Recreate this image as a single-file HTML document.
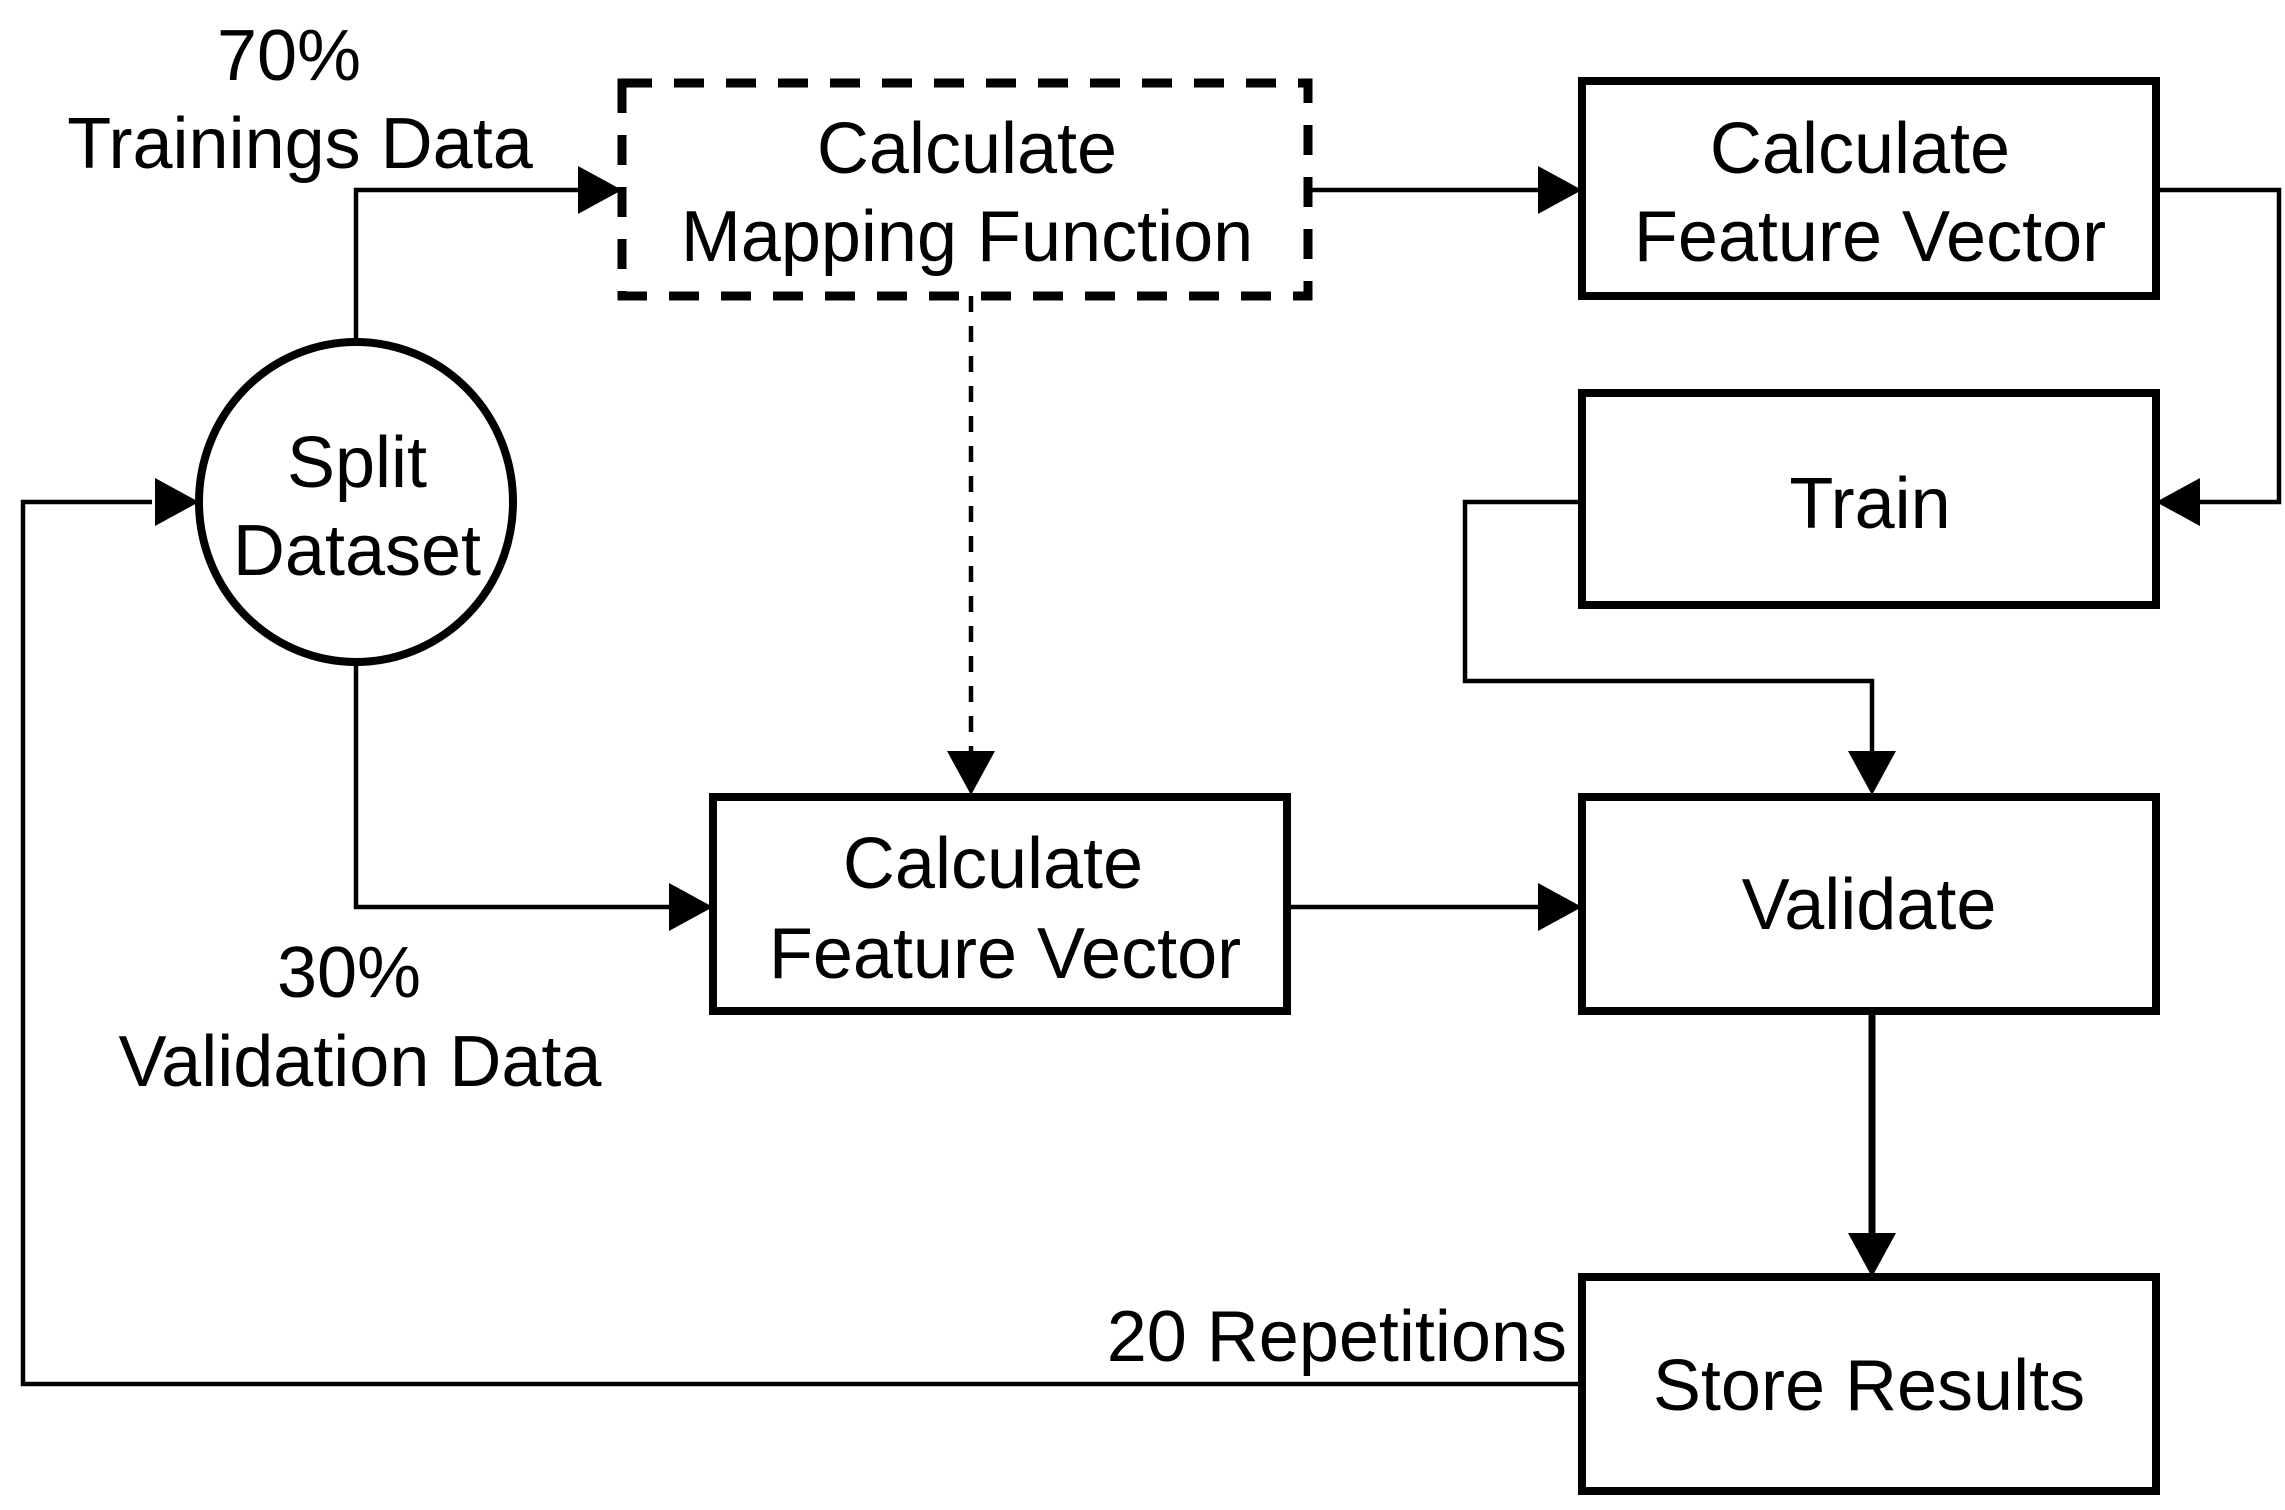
<!DOCTYPE html>
<html><head><meta charset="utf-8"><style>html,body{margin:0;padding:0;background:#fff}svg{display:block}</style></head>
<body>
<svg width="2285" height="1510" viewBox="0 0 2285 1510" xmlns="http://www.w3.org/2000/svg" font-family="Liberation Sans, Arial, sans-serif" font-size="72" fill="none" stroke="#000">
<!-- boxes -->
<rect x="622" y="83" width="686" height="213" stroke-width="9" stroke-dasharray="30,22"/>
<rect x="1582" y="81" width="574" height="215" stroke-width="8"/>
<rect x="1582" y="393" width="574" height="212" stroke-width="8"/>
<rect x="1582" y="797" width="574" height="214" stroke-width="8"/>
<rect x="1582" y="1277" width="574" height="214" stroke-width="8"/>
<rect x="713" y="797" width="574" height="214" stroke-width="8"/>
<ellipse cx="356" cy="502" rx="157" ry="160" stroke-width="8"/>
<!-- connectors -->
<g stroke-width="4.5">
<polyline points="356,342 356,190 580,190"/>
<line x1="971" y1="296" x2="971" y2="752" stroke-dasharray="16,14"/>
<polyline points="356,662 356,907 670,907"/>
<line x1="1287" y1="907" x2="1540" y2="907"/>
<line x1="1308" y1="190" x2="1540" y2="190"/>
<polyline points="2156,190 2279,190 2279,502 2200,502"/>
<polyline points="1582,502 1465,502 1465,681 1872,681 1872,752"/>
<polyline points="1582,1384 23,1384 23,502 152,502"/>
</g>
<line x1="1872" y1="1011" x2="1872" y2="1235" stroke-width="7"/>
<!-- arrowheads -->
<g fill="#000" stroke="none">
<polygon points="622,190 578,166 578,214"/>
<polygon points="971,795 947,751 995,751"/>
<polygon points="713,907 669,883 669,931"/>
<polygon points="1582,907 1538,883 1538,931"/>
<polygon points="1582,190 1538,166 1538,214"/>
<polygon points="2156,502 2200,478 2200,526"/>
<polygon points="1872,795 1848,751 1896,751"/>
<polygon points="1872,1277 1848,1233 1896,1233"/>
<polygon points="199,502 155,478 155,526"/>
</g>
<!-- text -->
<g fill="#000" stroke="none" text-anchor="middle" dominant-baseline="central">
<text x="967" y="149">Calculate</text>
<text x="967" y="237">Mapping Function</text>
<text x="1860" y="149">Calculate</text>
<text x="1870" y="237">Feature Vector</text>
<text x="1870" y="504">Train</text>
<text x="993" y="864">Calculate</text>
<text x="1005" y="954">Feature Vector</text>
<text x="1869" y="905">Validate</text>
<text x="1869" y="1386">Store Results</text>
<text x="357" y="463">Split</text>
<text x="357" y="551">Dataset</text>
<text x="289" y="56">70%</text>
<text x="300" y="144">Trainings Data</text>
<text x="349" y="973">30%</text>
<text x="360" y="1062">Validation Data</text>
<text x="1567" y="1337" text-anchor="end">20 Repetitions</text>
</g>
</svg>
</body></html>
